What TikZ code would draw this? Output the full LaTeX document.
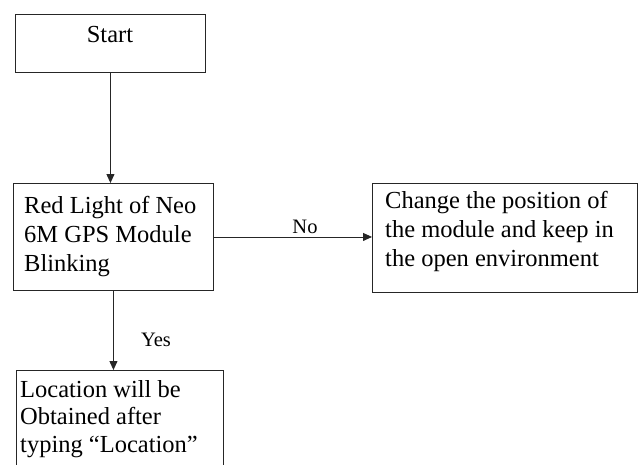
\documentclass[tikz,border=0pt]{standalone}
\usepackage{fontspec}
\setmainfont{Liberation Serif}
\usetikzlibrary{arrows.meta}
\begin{document}
\begin{tikzpicture}[x=1pt,y=-1pt,
  box/.style={draw=black!85, line width=0.9pt, inner sep=0pt, anchor=north west},
  txt/.style={font=\fontsize{24.5}{29}\selectfont, align=left, anchor=base west, inner sep=0pt},
  lbl/.style={font=\fontsize{20.5}{24}\selectfont, anchor=base, inner sep=0pt},
  arr/.style={draw=black!85, line width=0.9pt, -{Triangle[length=9pt,width=8pt]}}]
\useasboundingbox (0,0) rectangle (639,464);
\clip (0,0) rectangle (639,464);
\fill[white] (0,0) rectangle (639,464);
\node[box, minimum width=190pt, minimum height=58pt] (start) at (15,14) {};
\node[box, minimum width=200pt, minimum height=107pt] (red) at (13,183) {};
\node[box, minimum width=265pt, minimum height=109pt] (change) at (372,183) {};
\node[box, minimum width=207pt, minimum height=130pt] (loc) at (16,370) {};
\node[txt, anchor=base] (tstart) at (110,42) {Start};
\node[txt] (tred) at (24,271) {Red Light of Neo\\6M GPS Module\\Blinking};
\node[txt] (tchange) at (385,266) {Change the position of\\the module and keep in\\the open environment};
\node[txt, font=\fontsize{24.5}{27.5}\selectfont] (tloc) at (20,452) {Location will be\\Obtained after\\typing “Location”};
\draw[arr] (start.south) -- (start.south |- red.north);
\draw[arr] (red.east) -- (red.east -| change.west);
\draw[arr] (red.south) -- (red.south |- loc.north);
\node[lbl] (no) at (305,233) {No};
\node[lbl] (yes) at (156,346) {Yes};
\end{tikzpicture}
\end{document}
